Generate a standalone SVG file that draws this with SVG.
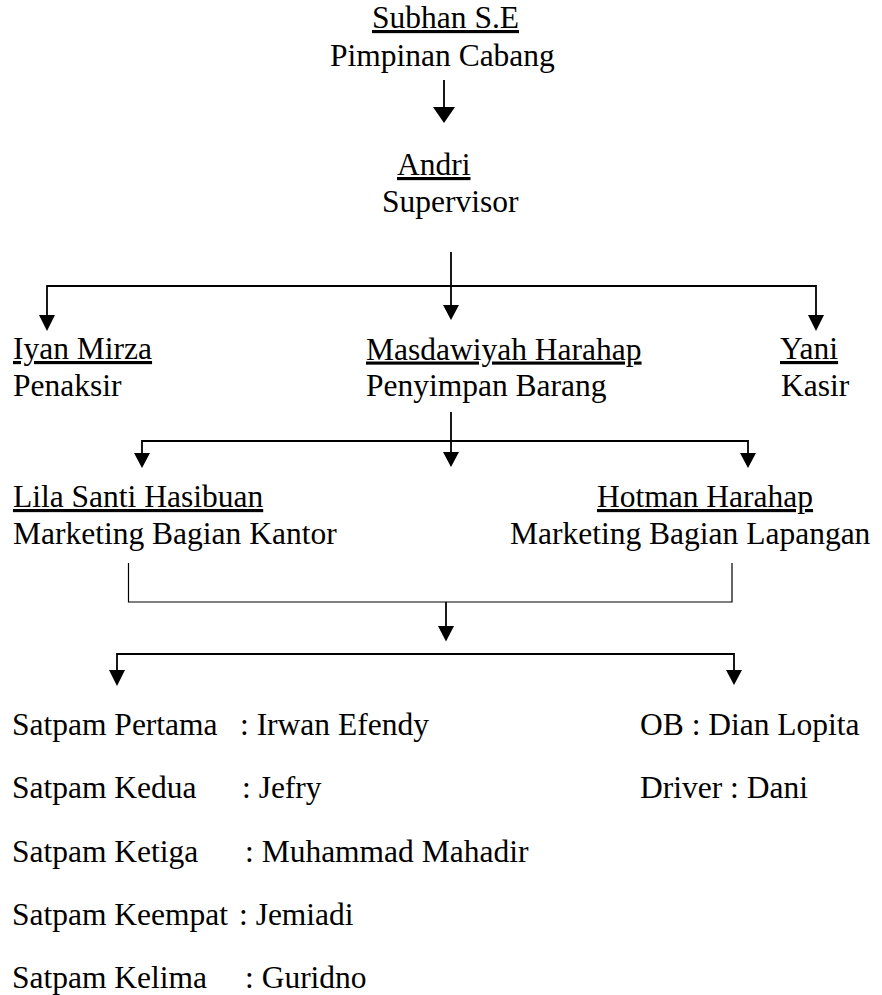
<svg xmlns="http://www.w3.org/2000/svg" width="882" height="995" viewBox="0 0 882 995">
<style>
text{font-family:"Liberation Serif","Times New Roman",serif;font-size:31.5px;fill:#000}
.u{text-decoration:underline}
.ln{stroke:#000;stroke-width:1.8;fill:none}
.thin{stroke:#000;stroke-width:1.2;fill:none}
.ah{fill:#000;stroke:none}
</style>
<rect width="882" height="995" fill="#fff"/>
<g id="connectors">
<line class="ln" x1="444" y1="80" x2="444" y2="108"/>
<polygon class="ah" points="433,107 455,107 444,123"/>
<line class="ln" x1="451" y1="252" x2="451" y2="306"/>
<polygon class="ah" points="443,305 459,305 451,320"/>
<polyline class="ln" points="47,316 47,286 816,286 816,316"/>
<polygon class="ah" points="39,315 55,315 47,331"/>
<polygon class="ah" points="808,315 824,315 816,331"/>
<line class="ln" x1="451" y1="412" x2="451" y2="453"/>
<polygon class="ah" points="443,452 459,452 451,467"/>
<polyline class="ln" points="142,454 142,441 748,441 748,454"/>
<polygon class="ah" points="134,453 150,453 142,468"/>
<polygon class="ah" points="740,453 756,453 748,468"/>
<polyline class="thin" points="128.5,563 128.5,602 732,602 732,563"/>
<line class="ln" x1="446" y1="602" x2="446" y2="627"/>
<polygon class="ah" points="438,626 454,626 446,641.5"/>
<polyline class="ln" points="117,671 117,654 734,654 734,671"/>
<polygon class="ah" points="109,670 125,670 117,686"/>
<polygon class="ah" points="726,670 742,670 734,685"/>
</g>
<g id="pimpinan">
<text class="u" x="372" y="28">Subhan S.E</text>
<text x="330" y="65.5">Pimpinan Cabang</text>
</g>
<g id="supervisor">
<text class="u" x="397" y="175">Andri</text>
<text x="382" y="211.5">Supervisor</text>
</g>
<g id="penaksir">
<text class="u" x="13" y="359">Iyan Mirza</text>
<text x="13" y="396">Penaksir</text>
</g>
<g id="penyimpan">
<text class="u" x="366" y="359.5">Masdawiyah Harahap</text>
<text x="366" y="395.5">Penyimpan Barang</text>
</g>
<g id="kasir">
<text class="u" x="780" y="359">Yani</text>
<text x="781" y="396">Kasir</text>
</g>
<g id="marketing-kantor">
<text class="u" x="13" y="507">Lila Santi Hasibuan</text>
<text x="13" y="544">Marketing Bagian Kantor</text>
</g>
<g id="marketing-lapangan">
<text class="u" x="597" y="507">Hotman Harahap</text>
<text x="510" y="544">Marketing Bagian Lapangan</text>
</g>
<g id="satpam">
<text x="12" y="735">Satpam Pertama</text><text x="240" y="735">: Irwan Efendy</text>
<text x="12" y="798">Satpam Kedua</text><text x="242" y="798">: Jefry</text>
<text x="12" y="861.5">Satpam Ketiga</text><text x="245" y="861.5">: Muhammad Mahadir</text>
<text x="12" y="925">Satpam Keempat</text><text x="239" y="925">: Jemiadi</text>
<text x="12" y="988">Satpam Kelima</text><text x="245" y="988">: Guridno</text>
</g>
<g id="ob-driver">
<text x="640" y="735">OB : Dian Lopita</text>
<text x="640" y="798">Driver : Dani</text>
</g>
</svg>
